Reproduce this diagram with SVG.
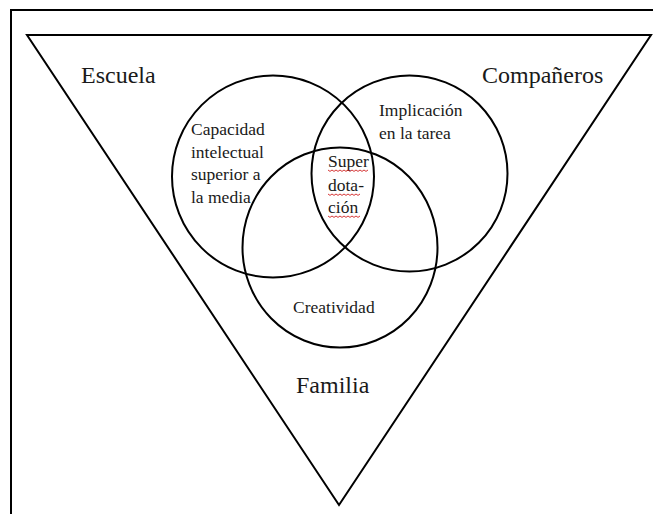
<svg xmlns="http://www.w3.org/2000/svg" width="653" height="514" viewBox="0 0 653 514">
<style>
.ln{fill:none;stroke:#000;stroke-width:2}
text{font-family:'Liberation Serif','DejaVu Serif',serif;fill:#1a1a1a}
.big{font-size:24px}
.sm{font-size:17.5px}
.wave{fill:none;stroke:#d02020;stroke-width:0.9}
</style>
<rect width="653" height="514" fill="#fff"/>
<g id="frame"><path class="ln" d="M11,514 V10 H653" stroke-width="2.4"/></g>
<g id="context">
<path class="ln" d="M27,35 H651 L339,505 Z"/>
<text class="big" x="81" y="83" font-family="Liberation Serif, serif">Escuela</text>
<text class="big" x="482" y="83" font-family="Liberation Serif, serif">Compañeros</text>
<text class="big" x="296" y="393" font-family="Liberation Serif, serif">Familia</text>
</g>
<g id="capacidad">
<circle class="ln" cx="273" cy="176.5" r="101"/>
<text class="sm" x="191" y="135">Capacidad</text>
<text class="sm" x="191" y="157.5">intelectual</text>
<text class="sm" x="191" y="180">superior a</text>
<text class="sm" x="191" y="202.5">la media</text>
</g>
<g id="implicacion">
<circle class="ln" cx="409.5" cy="173.5" r="98"/>
<text class="sm" x="379" y="116">Implicación</text>
<text class="sm" x="379" y="138.5">en la tarea</text>
</g>
<g id="creatividad">
<ellipse class="ln" cx="340" cy="247.5" rx="97.5" ry="100"/>
<text class="sm" x="293" y="313">Creatividad</text>
</g>
<g id="superdotacion">
<text class="sm" x="328" y="167">Super</text>
<text class="sm" x="328" y="191">dota-</text>
<text class="sm" x="328" y="213">ción</text>
<path class="wave" d="M328,170 l2,1.4 l2,-1.4 l2,1.4 l2,-1.4 l2,1.4 l2,-1.4 l2,1.4 l2,-1.4 l2,1.4 l2,-1.4 l2,1.4 l2,-1.4 l2,1.4 l2,-1.4 l2,1.4 l2,-1.4 l2,1.4 l2,-1.4 l2,1.4 l2,-1.4"/>
<path class="wave" d="M328,194 l2,1.4 l2,-1.4 l2,1.4 l2,-1.4 l2,1.4 l2,-1.4 l2,1.4 l2,-1.4 l2,1.4 l2,-1.4 l2,1.4 l2,-1.4 l2,1.4 l2,-1.4 l2,1.4 l2,-1.4"/>
<path class="wave" d="M328,216 l2,1.4 l2,-1.4 l2,1.4 l2,-1.4 l2,1.4 l2,-1.4 l2,1.4 l2,-1.4 l2,1.4 l2,-1.4 l2,1.4 l2,-1.4 l2,1.4 l2,-1.4 l2,1.4 l2,-1.4"/>
</g>
<g id="connectors"></g>
</svg>
